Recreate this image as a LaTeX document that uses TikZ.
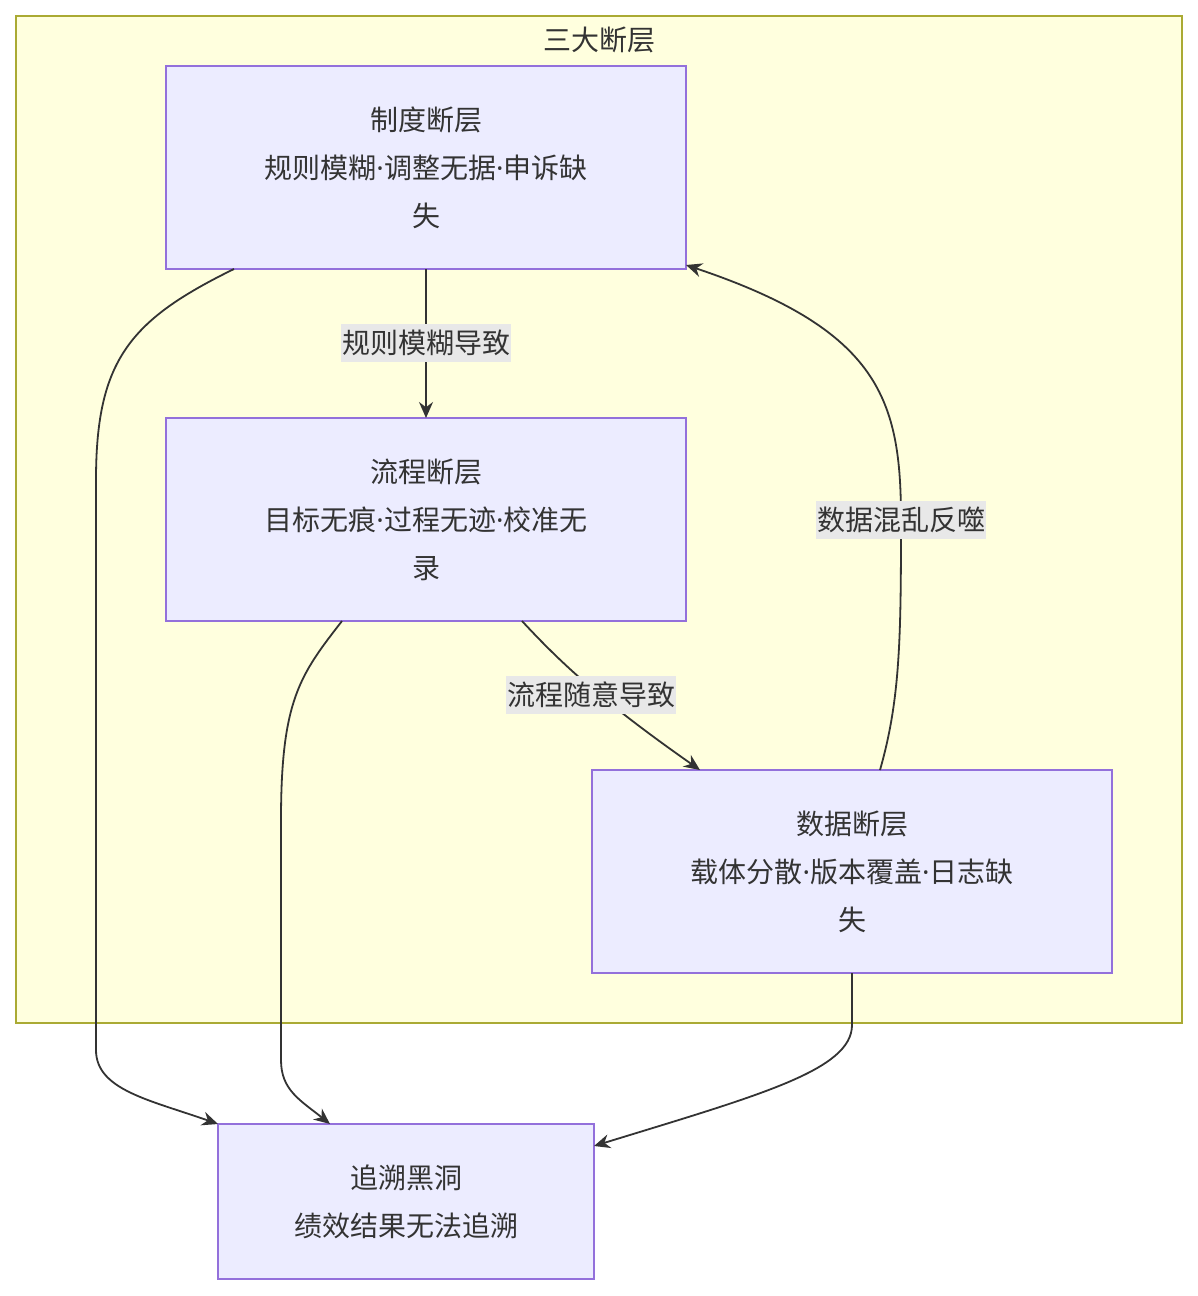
\documentclass[tikz,border=0pt]{standalone}
\usepackage{fontspec}
\setmainfont{Noto Sans CJK SC}
\newfontfamily\lat{Noto Sans}
\newcommand{\md}{{\lat ·}}
\usetikzlibrary{arrows.meta}
\definecolor{nfill}{HTML}{ECECFF}
\definecolor{nline}{HTML}{9370DB}
\definecolor{cfill}{HTML}{FFFFDE}
\definecolor{cline}{HTML}{AAAA33}
\definecolor{ink}{HTML}{333333}
\definecolor{lbg}{HTML}{E8E8E8}
\begin{document}
\begin{tikzpicture}[x=1pt,y=-1pt,
  box/.style={draw=nline,fill=nfill,line width=1.5pt,align=center,font=\fontsize{28}{48}\selectfont,text=ink,inner sep=0pt},
  edge/.style={draw=ink,line width=1.8pt,-{Stealth[length=16pt,width=14pt]}},
  lab/.style={fill=lbg,font=\fontsize{28}{32}\selectfont,text=ink,inner sep=1pt,minimum height=38pt}]
\useasboundingbox (0,0) rectangle (1198,1296);
\draw[fill=cfill,draw=cline,line width=1.5pt] (16,16) rectangle (1182,1023);
\node[font=\fontsize{28}{32}\selectfont,text=ink] (t) at (599,40) {三大断层};
\node[box,minimum width=520pt,minimum height=203pt] (A) at (426,167.5) {制度断层\\规则模糊\md 调整无据\md 申诉缺\\失};
\node[box,minimum width=520pt,minimum height=203pt] (B) at (426,519.5) {流程断层\\目标无痕\md 过程无迹\md 校准无\\录};
\node[box,minimum width=520pt,minimum height=203pt] (C) at (852,871.5) {数据断层\\载体分散\md 版本覆盖\md 日志缺\\失};
\node[box,minimum width=376pt,minimum height=155pt] (D) at (406,1201.5) {追溯黑洞\\绩效结果无法追溯};
\coordinate (a1) at (234,269); \coordinate (a2) at (426,269);
\coordinate (b1) at (342,621); \coordinate (b2) at (522,621); \coordinate (b3) at (426,418);
\coordinate (c1) at (700,770); \coordinate (c2) at (880,770); \coordinate (c3) at (852,973);
\coordinate (ar) at (686,265);
\coordinate (d1) at (218,1124); \coordinate (d2) at (330,1124); \coordinate (d3) at (594,1146);
\draw[edge] (a2) -- (b3);
\node[lab] at (426,343) {规则模糊导致};
\draw[edge] (b2) .. controls (560,662) and (600,700) .. (c1);
\node[lab] at (591,695) {流程随意导致};
\draw[edge] (c2) .. controls (900,700) and (901,640) .. (901,520) .. controls (901,400) and (880,330) .. (ar);
\node[lab] at (901,520) {数据混乱反噬};
\draw[edge] (a1) .. controls (130,320) and (96,360) .. (96,480) -- (96,1050) .. controls (96,1090) and (150,1100) .. (d1);
\draw[edge] (b1) .. controls (300,675) and (281,700) .. (281,820) -- (281,1060) .. controls (281,1090) and (300,1100) .. (d2);
\draw[edge] (c3) -- (852,1025) .. controls (852,1070) and (760,1095) .. (d3);
\end{tikzpicture}
\end{document}
